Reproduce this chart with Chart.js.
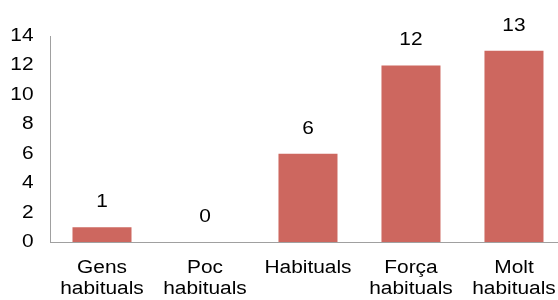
<!DOCTYPE html>
<html>
<head>
<meta charset="utf-8">
<script src="https://cdn.jsdelivr.net/npm/chart.js@4/dist/chart.umd.min.js"></script>
<style>
  html, body { margin: 0; padding: 0; background: #fff; overflow: hidden; width: 558px; height: 300px; }
  #wrap { width: 566px; height: 300px; position: relative; }
  canvas { display: block; }
</style>
</head>
<body>
<div id="wrap"><canvas id="c" width="566" height="300" style="width:566px;height:300px"></canvas></div>
<script>
const categories = [["Gens", "habituals"], ["Poc", "habituals"], "Habituals", ["Força", "habituals"], ["Molt", "habituals"]];
const values = [1, 0, 6, 12, 13];
const yTicks = [0, 2, 4, 6, 8, 10, 12, 14];

const FONT = "'Liberation Sans', Arial, sans-serif";
const TEXT_STRETCH = 1.16;

const canvas = document.getElementById('c');
const ctx2d = canvas.getContext('2d');
const origFillText = ctx2d.fillText.bind(ctx2d);
ctx2d.fillText = function (t, x, y, mw) {
  this.save();
  this.translate(x, y);
  this.scale(TEXT_STRETCH, 1);
  if (mw !== undefined) origFillText(t, 0, 0, mw / TEXT_STRETCH);
  else origFillText(t, 0, 0);
  this.restore();
};

const valueLabels = {
  id: 'valueLabels',
  afterDatasetsDraw(chart) {
    const ctx = chart.ctx;
    const meta = chart.getDatasetMeta(0);
    ctx.save();
    ctx.font = "18px " + FONT;
    ctx.fillStyle = '#000';
    ctx.textAlign = 'center';
    ctx.textBaseline = 'middle';
    meta.data.forEach((el, i) => {
      ctx.fillText(String(values[i]), el.x, el.y - 25);
    });
    ctx.restore();
  }
};

new Chart(canvas, {
  type: 'bar',
  data: {
    labels: categories,
    datasets: [{
      data: values,
      backgroundColor: '#CD675F',
      borderWidth: 0,
      barPercentage: 0.573,
      categoryPercentage: 1.0
    }]
  },
  options: {
    responsive: false,
    maintainAspectRatio: false,
    animation: false,
    devicePixelRatio: 1,
    layout: { padding: { top: 36, left: 0, right: 0, bottom: 0 } },
    plugins: { legend: { display: false }, tooltip: { enabled: false } },
    scales: {
      x: {
        grid: { display: false, drawTicks: false },
        border: { display: true, color: '#A0A0A0', width: 1 },
        ticks: {
          color: '#000',
          font: { family: FONT, size: 18, lineHeight: 1.15 },
          padding: 16,
          maxRotation: 0,
          autoSkip: false
        },
        afterFit(s) { s.height = 58; }
      },
      y: {
        min: 0,
        max: 14,
        afterBuildTicks(s) { s.ticks = yTicks.map(v => ({ value: v })); },
        grid: { display: false, drawTicks: false },
        border: { display: true, color: '#A0A0A0', width: 1 },
        ticks: {
          color: '#000',
          font: { family: FONT, size: 18 },
          padding: 17
        },
        afterFit(s) { s.width = 50.5; }
      }
    }
  },
  plugins: [valueLabels]
});
</script>
</body>
</html>
